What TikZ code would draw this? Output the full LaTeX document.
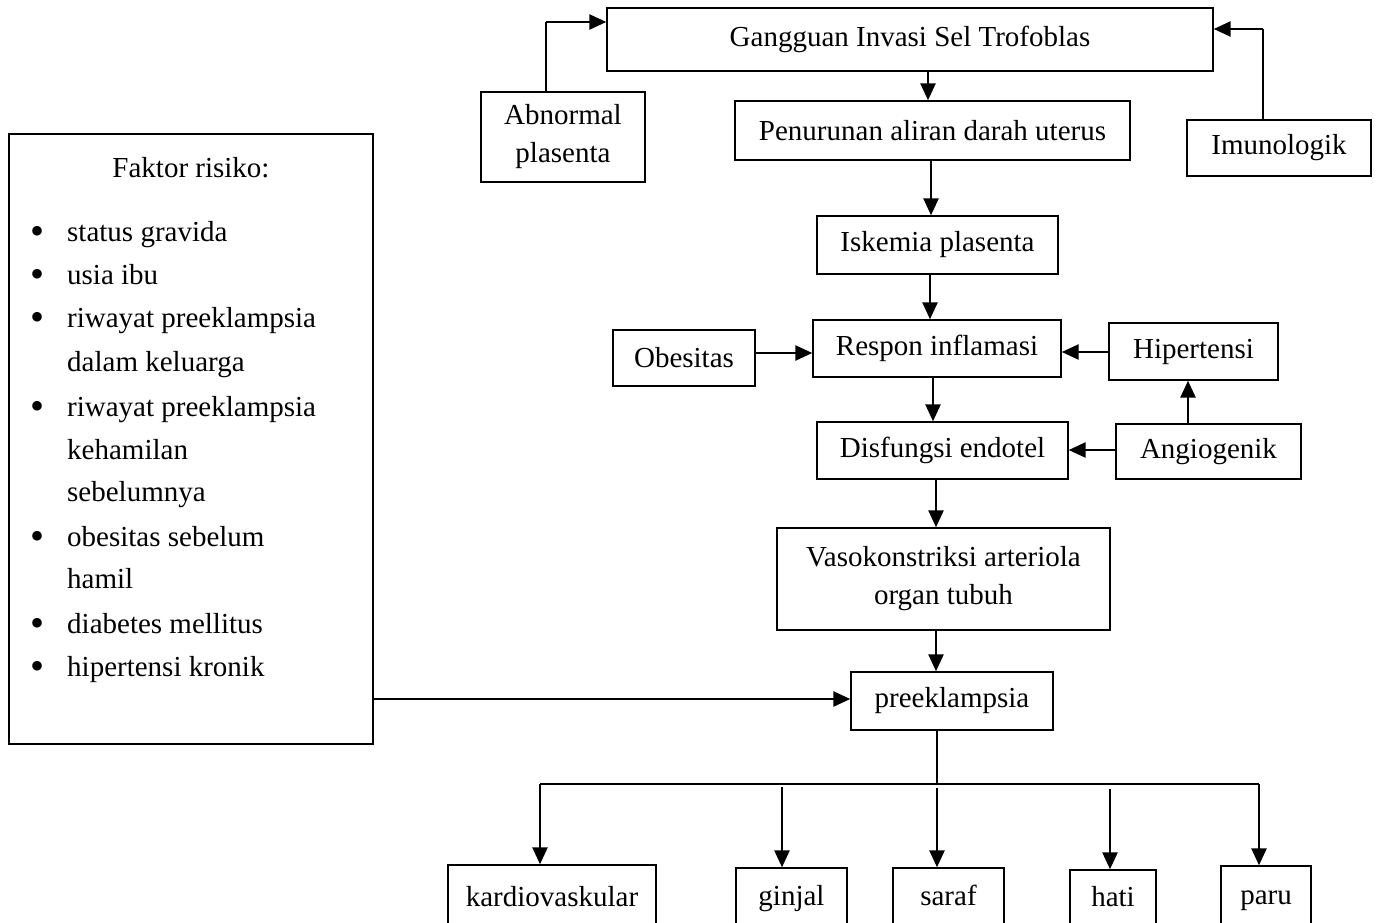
\documentclass[tikz,border=0pt]{standalone}
\usepackage{fontspec}
\setmainfont{Liberation Serif}
\usetikzlibrary{arrows.meta,calc}
\tikzset{
  bx/.style={draw, line width=1.4pt, rectangle, inner sep=0pt, align=center, font=\fontsize{29}{38}\selectfont},
  bt/.style={text height=20pt, text depth=6pt},
  arr/.style={line width=2.6pt, -{Triangle[length=17pt,width=15pt]}},
  ln/.style={line width=2.6pt},
  thin/.style={line width=1.6pt},
  lst/.style={anchor=base west, inner sep=0pt, font=\fontsize{29}{38}\selectfont},
  blt/.style={anchor=base, inner sep=0pt, font=\fontsize{40}{38}\selectfont},
  ttl/.style={anchor=base, inner sep=0pt, font=\fontsize{29}{38}\selectfont},
}
\begin{document}
\begin{tikzpicture}[x=1pt,y=-1pt]
\clip (0,0) rectangle (1378,923);
\useasboundingbox (0,0) rectangle (1378,923);
% main boxes
\node[bx, minimum width=606pt, minimum height=63pt] (g) at (910,39.5) {Gangguan Invasi Sel Trofoblas};
\node[bx, minimum width=164pt, minimum height=90pt] (ab) at (563,137) {Abnormal\\plasenta};
\node[bx, minimum width=184pt, minimum height=56pt] (im) at (1279,148) {Imunologik};
\node[bx, minimum width=395pt, minimum height=59pt] (pen) at (932.5,130.5) {Penurunan aliran darah uterus};
\node[bx, minimum width=241pt, minimum height=58pt] (isk) at (937.5,245) {Iskemia plasenta};
\node[bx, minimum width=248pt, minimum height=57pt] (res) at (937,348.5) {Respon inflamasi};
\node[bx, minimum width=142pt, minimum height=56pt] (obe) at (684,358) {Obesitas};
\node[bx, minimum width=169pt, minimum height=57pt] (hip) at (1193.5,351.5) {Hipertensi};
\node[bx, minimum width=185pt, minimum height=55pt] (ang) at (1208.5,451.5) {Angiogenik};
\node[bx, minimum width=251pt, minimum height=57pt] (dis) at (942.5,450.5) {Disfungsi endotel};
\node[bx, minimum width=333pt, minimum height=102pt] (vas) at (943.5,579) {Vasokonstriksi arteriola\\organ tubuh};
\node[bx, minimum width=202pt, minimum height=58pt] (pre) at (952,701) {preeklampsia};
% risk factor box
\node[bx, minimum width=364pt, minimum height=610pt] (fr) at (191,439) {};
\node[ttl] (frt) at (191,177) {Faktor risiko:};
\foreach \y/\t/\b [count=\i] in {
  232/status gravida/1, 275/usia ibu/1, 318/riwayat preeklampsia/1, 362/dalam keluarga/0,
  407/riwayat preeklampsia/1, 450/kehamilan/0, 492/sebelumnya/0, 537/obesitas sebelum/1,
  579/hamil/0, 624/diabetes mellitus/1, 667/hipertensi kronik/1} {
  \node[lst] (l\i) at (67,\y+9) {\t};
  \ifnum\b=1 \node[blt] (b\i) at (38,\y+12) {•};\fi
}
% bottom boxes
\node[bx, bt, minimum width=208pt, minimum height=69pt] (kard) at (552,899.5) {kardiovaskular};
\node[bx, bt, minimum width=111pt, minimum height=60pt] (gin) at (791.5,898) {ginjal};
\node[bx, bt, minimum width=111pt, minimum height=60pt] (sar) at (948.5,898) {saraf};
\node[bx, bt, minimum width=86pt, minimum height=58pt] (hat) at (1113,899) {hati};
\node[bx, bt, minimum width=90pt, minimum height=62pt] (par) at (1266,897) {paru};
% side feeders to top box
\coordinate (abc) at (546,22);
\draw[ln] (ab.north -| abc) -- (abc);
\draw[arr] (abc) -- (g.west |- abc);
\coordinate (imc) at (1263,29);
\draw[ln] (im.north -| imc) -- (imc);
\draw[arr] (imc) -- (g.east |- imc);
% main chain
\coordinate (c1) at (928,0);
\draw[arr] (g.south -| c1) -- (pen.north -| c1);
\coordinate (c2) at (931,0);
\draw[arr] (pen.south -| c2) -- (isk.north -| c2);
\coordinate (c3) at (930,0);
\draw[arr] (isk.south -| c3) -- (res.north -| c3);
\coordinate (c4) at (933,0);
\draw[arr] (res.south -| c4) -- (dis.north -| c4);
\coordinate (c5) at (936,0);
\draw[arr] (dis.south -| c5) -- (vas.north -| c5);
\coordinate (c6) at (936,0);
\draw[arr] (vas.south -| c6) -- (pre.north -| c6);
% side arrows
\coordinate (r1) at (0,353);
\draw[arr] (obe.east |- r1) -- (res.west |- r1);
\coordinate (r2) at (0,352);
\draw[arr] (hip.west |- r2) -- (res.east |- r2);
\coordinate (r3) at (0,450);
\draw[arr] (ang.west |- r3) -- (dis.east |- r3);
\coordinate (r4) at (1188,0);
\draw[arr] (ang.north -| r4) -- (hip.south -| r4);
\coordinate (r5) at (0,699);
\draw[arr] (fr.east |- r5) -- (pre.west |- r5);
% distribution bus
\coordinate (bus) at (937,784);
\coordinate (busL) at (540,784);
\coordinate (busR) at (1259,784);
\draw[thin] (pre.south -| bus) -- (bus);
\draw[ln] (busL) -- (busR);
\draw[arr] (busL) -- (kard.north -| busL);
\coordinate (gtop) at (782,787);
\draw[arr] (gtop) -- (gin.north -| gtop);
\coordinate (stop) at (937,788);
\draw[arr] (stop) -- (sar.north -| stop);
\coordinate (htop) at (1110,789);
\draw[arr] (htop) -- (hat.north -| htop);
\draw[arr] (busR) -- (par.north -| busR);
\end{tikzpicture}
\end{document}
